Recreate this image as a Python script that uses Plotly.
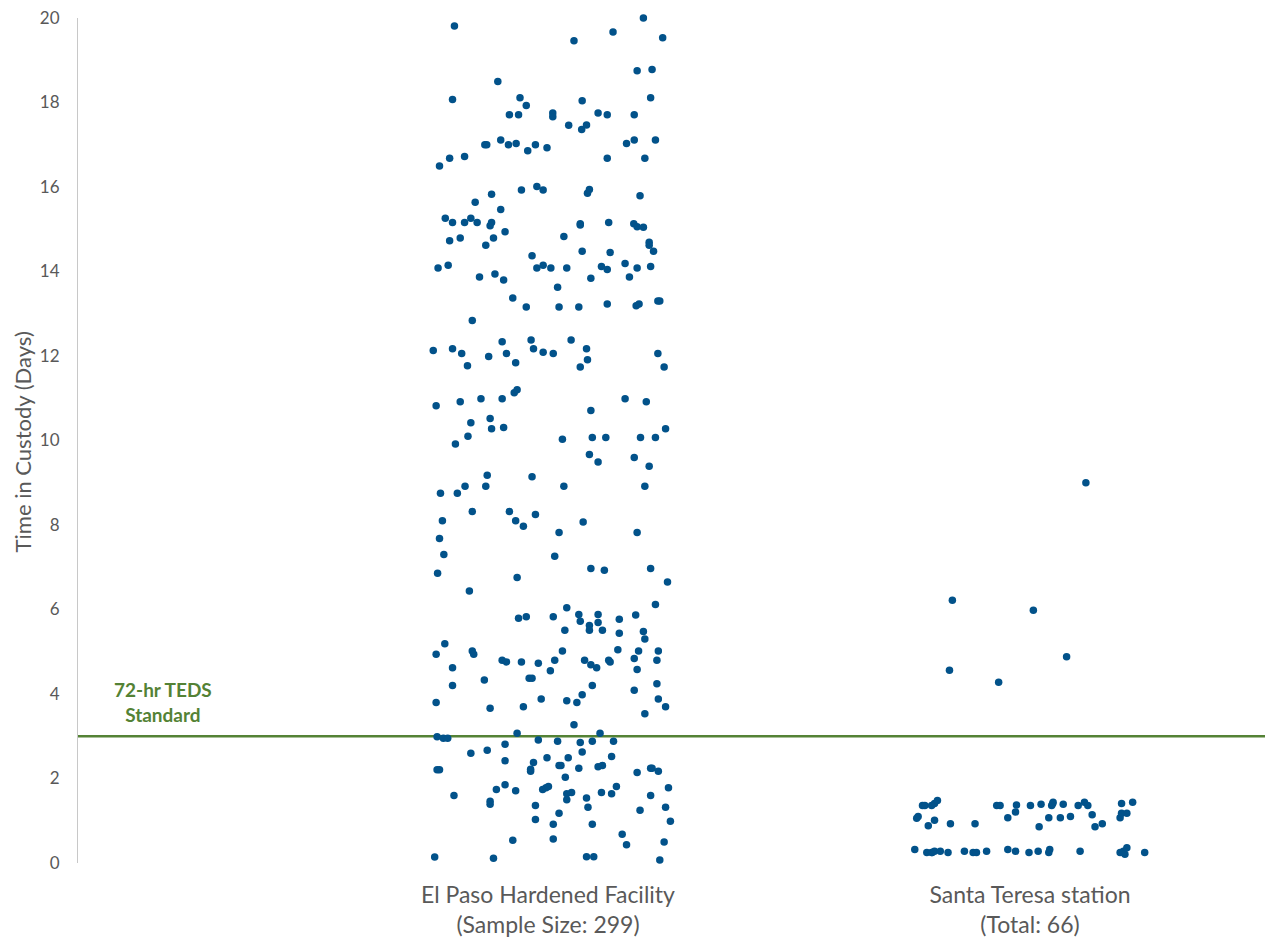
import plotly.graph_objects as go

categories = ["El Paso Hardened Facility<br>(Sample Size: 299)", "Santa Teresa station<br>(Total: 66)"]
category_pos = [1, 2]
y_ticks = [0, 2, 4, 6, 8, 10, 12, 14, 16, 18, 20]
standard_days = 3
standard_label = "72-hr TEDS<br>Standard"

ep_jitter = [
    -0.194, 0.054, 0.135, 0.198, 0.238, -0.104, 0.185, 0.216, -0.198, -0.058, -0.045, 0.071, 0.213,
    -0.080, -0.061, 0.010, 0.010, 0.104, 0.123, 0.179, 0.043, 0.070, 0.080, -0.131, -0.127, -0.098,
    -0.082, -0.066, -0.042, -0.026, -0.002, 0.163, 0.179, 0.223, 0.123, 0.201, -0.225, -0.204, -0.173,
    -0.055, -0.023, -0.010, 0.082, 0.086, -0.117, 0.191, -0.151, -0.098, -0.213, -0.198, -0.173, -0.160,
    -0.147, -0.120, -0.117, 0.067, 0.067, 0.126, 0.178, 0.185, 0.198, -0.089, -0.204, -0.182, -0.129,
    -0.113, 0.033, 0.210, 0.210, 0.219, 0.071, 0.129, -0.033, -0.228, -0.207, -0.023, -0.010, 0.006,
    0.039, 0.111, 0.123, 0.160, 0.185, 0.213, -0.142, -0.110, -0.092, 0.089, 0.169, 0.020, -0.073,
    -0.045, 0.023, 0.064, 0.123, 0.183, 0.189, 0.228, 0.232, -0.157, -0.238, -0.198, -0.179, -0.123,
    -0.095, -0.086, -0.035, -0.030, -0.010, 0.011, 0.048, 0.080, 0.228,
    -0.167, -0.067, 0.067, 0.082, 0.241, -0.070, -0.064, -0.232, -0.182, -0.139, -0.095, 0.160, 0.204,
    0.089, -0.160, -0.120, -0.117, -0.092, -0.166, -0.192, 0.030, 0.092, 0.120, 0.192, 0.223, 0.244,
    0.086, 0.104, 0.179, 0.210, -0.126, -0.033, -0.172, -0.129, 0.033, 0.201, -0.223, -0.188, -0.157,
    -0.080, -0.026, -0.219, -0.067, -0.051, 0.073,
    0.023, 0.185, -0.225, -0.216, 0.014, -0.229, -0.064, 0.089, 0.117, 0.213, 0.248, -0.163, 0.039,
    0.223, -0.061, -0.045, 0.011, 0.064, 0.067, 0.104, 0.104, 0.086, 0.086, 0.113, 0.148, 0.182,
    0.035, 0.148, 0.198, 0.201, -0.214, -0.232, -0.157, -0.154, -0.198, -0.095, -0.086, -0.055, -0.020,
    0.014, 0.030, 0.005, 0.076, 0.089, 0.101, 0.126, 0.129, 0.145, 0.188, 0.179, 0.229, 0.226, 0.185,
    -0.198, -0.132, -0.039, -0.033, 0.092, 0.179, 0.226, 0.071,
    -0.232, -0.120, -0.051, -0.014, 0.039, 0.060, 0.244, 0.229, 0.201, 0.054, -0.230, -0.217, -0.208,
    -0.064, 0.108, -0.020, 0.020, 0.067, 0.092, 0.136, -0.160, -0.126, -0.089, -0.089, -0.030, -0.002,
    0.042, 0.071, 0.132, 0.023, 0.027, -0.036, -0.036, 0.064, 0.104, 0.113, -0.230, -0.225, 0.185,
    0.213, 0.216, 0.229, 0.036, -0.107, -0.089, -0.067, -0.011, -0.004, 0.001, 0.039, 0.049, 0.039,
    0.080, 0.111, 0.132, 0.142, 0.213, 0.250, -0.195, -0.120, -0.120, -0.026, 0.083, 0.244, 0.191,
    0.023, -0.026, 0.011, 0.092, 0.254, 0.154, 0.163, -0.073, 0.011, 0.241, -0.235, -0.113, 0.080,
    0.095, 0.232,
]
ep_days = [
    19.81, 19.46, 19.67, 20.00, 19.53, 18.50, 18.75, 18.78, 18.07, 18.11, 17.93, 18.04, 18.11,
    17.71, 17.71, 17.75, 17.66, 17.75, 17.71, 17.71, 17.46, 17.36, 17.47, 17.00, 17.00, 17.11,
    17.00, 17.03, 16.86, 17.00, 16.93, 17.03, 17.11, 17.11, 16.68, 16.68, 16.50, 16.68, 16.72,
    15.93, 16.01, 15.93, 15.85, 15.94, 15.83, 15.79, 15.64, 15.47, 15.26, 15.16, 15.16, 15.26,
    15.16, 15.08, 15.16, 15.13, 15.10, 15.16, 15.13, 15.06, 15.05, 14.94, 14.73, 14.79, 14.62,
    14.79, 14.83, 14.69, 14.62, 14.48, 14.48, 14.45, 14.37, 14.08, 14.15, 14.08, 14.15, 14.08,
    14.08, 14.12, 14.05, 14.19, 14.08, 14.12, 13.87, 13.94, 13.80, 13.84, 13.87, 13.63, 13.37,
    13.16, 13.16, 13.16, 13.23, 13.19, 13.23, 13.30, 13.30, 12.84, 12.13, 12.17, 12.06, 11.99,
    12.34, 12.06, 12.38, 12.17, 12.09, 12.06, 12.38, 12.17, 12.06,
    11.77, 11.84, 11.74, 11.91, 11.74, 11.13, 11.20, 10.82, 10.92, 10.99, 10.99, 10.99, 10.92,
    10.71, 10.42, 10.52, 10.28, 10.31, 10.10, 9.92, 10.03, 10.07, 10.07, 10.07, 10.07, 10.28,
    9.67, 9.49, 9.60, 9.39, 9.18, 9.14, 8.92, 8.92, 8.92, 8.92, 8.75, 8.75, 8.32,
    8.32, 8.25, 8.10, 8.10, 7.97, 8.07,
    7.82, 7.82, 7.68, 7.30, 7.26, 6.86, 6.76, 6.97, 6.93, 6.97, 6.65, 6.44, 6.04,
    6.12, 5.79, 5.83, 5.83, 5.88, 5.72, 5.88, 5.69, 5.62, 5.51, 5.51, 5.77, 5.87,
    5.51, 5.44, 5.48, 5.30, 5.19, 4.94, 5.02, 4.94, 4.62, 4.80, 4.76, 4.76, 4.73,
    4.80, 5.02, 4.55, 4.80, 4.69, 4.62, 4.80, 4.76, 5.05, 5.02, 4.84, 5.02, 4.80, 4.58,
    4.20, 4.33, 4.37, 4.37, 4.20, 4.09, 4.24, 3.98,
    3.80, 3.66, 3.70, 3.88, 3.84, 3.80, 3.70, 3.88, 3.53, 3.27, 2.99, 2.95, 2.95,
    3.07, 3.07, 2.91, 2.88, 2.85, 2.88, 2.88, 2.60, 2.67, 2.81, 2.42, 2.38, 2.49,
    2.49, 2.63, 2.52, 2.31, 2.31, 2.22, 2.17, 2.24, 2.28, 2.31, 2.21, 2.21, 2.14,
    2.24, 2.24, 2.17, 2.03, 1.74, 1.85, 1.71, 1.74, 1.78, 1.81, 1.64, 1.67, 1.50,
    1.54, 1.67, 1.64, 1.81, 1.60, 1.78, 1.60, 1.46, 1.39, 1.36, 1.32, 1.32, 1.25,
    1.18, 1.03, 0.92, 0.92, 0.99, 0.68, 0.43, 0.54, 0.57, 0.50, 0.14, 0.11, 0.15,
    0.15, 0.07,
]

st_jitter = [
    0.116, -0.161, 0.007, 0.076, -0.167, -0.065,
    -0.223, -0.218, -0.204, -0.198, -0.192, -0.069, -0.062, -0.028, 0.001, 0.023, 0.045, 0.048,
    0.069, 0.100, 0.113, 0.120, 0.190, 0.213, 0.047,
    -0.232, -0.235, -0.211, -0.198, -0.165, -0.114, -0.046, -0.030, 0.019, 0.039, 0.063, 0.084,
    0.129, 0.135, 0.150, 0.187, 0.190, 0.201,
    -0.239, -0.214, -0.204, -0.203, -0.198, -0.186, -0.170, -0.136, -0.118, -0.111, -0.090, -0.046,
    -0.030, -0.002, 0.017, 0.039, 0.041, 0.104, 0.187, 0.194, 0.197, 0.201, 0.238,
]
st_days = [
    9.00, 6.22, 5.98, 4.88, 4.56, 4.28,
    1.36, 1.36, 1.36, 1.41, 1.48, 1.36, 1.36, 1.37, 1.36, 1.39, 1.36, 1.44,
    1.39, 1.36, 1.44, 1.36, 1.41, 1.44, 1.40,
    1.10, 1.06, 0.88, 1.01, 0.93, 0.93, 1.07, 1.21, 0.86, 1.07, 1.07, 1.10,
    1.14, 0.86, 0.93, 1.07, 1.18, 1.18,
    0.32, 0.25, 0.25, 0.25, 0.28, 0.28, 0.25, 0.28, 0.25, 0.25, 0.28, 0.32,
    0.28, 0.25, 0.28, 0.25, 0.32, 0.28, 0.25, 0.28, 0.21, 0.36, 0.25,
]

FONT = "Lato, 'Open Sans', sans-serif"
DOT = "#02528A"
GREEN = "#548235"
GRAY = "#595959"

fig = go.Figure()
fig.add_trace(go.Scatter(
    x=[category_pos[0] + j for j in ep_jitter], y=ep_days, mode="markers",
    marker=dict(size=7.5, color=DOT), cliponaxis=False, showlegend=False,
))
fig.add_trace(go.Scatter(
    x=[category_pos[1] + j for j in st_jitter], y=st_days, mode="markers",
    marker=dict(size=7.5, color=DOT), cliponaxis=False, showlegend=False,
))

fig.add_shape(type="line", xref="paper", yref="y", x0=0, x1=1, y0=standard_days, y1=standard_days,
              line=dict(color=GREEN, width=2.5), layer="below")
fig.add_annotation(xref="paper", yref="y", x=0.0716, xanchor="center", y=standard_days,
                   yanchor="bottom", yshift=8,
                   text="<b>" + standard_label + "</b>", showarrow=False, align="center",
                   font=dict(family=FONT, size=19, color=GREEN))

fig.update_layout(
    width=1265, height=938,
    margin=dict(l=78, r=0, t=18, b=75),
    paper_bgcolor="white", plot_bgcolor="white",
    font=dict(family=FONT, color=GRAY),
    xaxis=dict(range=[0.025, 2.4876], tickvals=category_pos, ticktext=categories,
               showgrid=False, zeroline=False, showline=False, ticks="",
               ticklabelstandoff=16,
               tickfont=dict(family=FONT, size=23, color=GRAY)),
    yaxis=dict(range=[0, 20], tickvals=y_ticks, showgrid=False, zeroline=False,
               showline=True, linecolor="#C8C8C8", linewidth=1, ticks="",
               ticklabelstandoff=14, ticklabeloverflow="allow",
               tickfont=dict(family=FONT, size=17, color=GRAY)),
)
fig.add_annotation(xref="paper", yref="paper", x=-0.047, y=0.498, textangle=-90,
                   text="Time in Custody (Days)", showarrow=False,
                   xanchor="center", yanchor="middle",
                   font=dict(family=FONT, size=22, color=GRAY))

fig.write_html("out.html", config={"displayModeBar": False},
               post_script="document.body.style.margin='0';document.body.style.overflow='hidden';")
